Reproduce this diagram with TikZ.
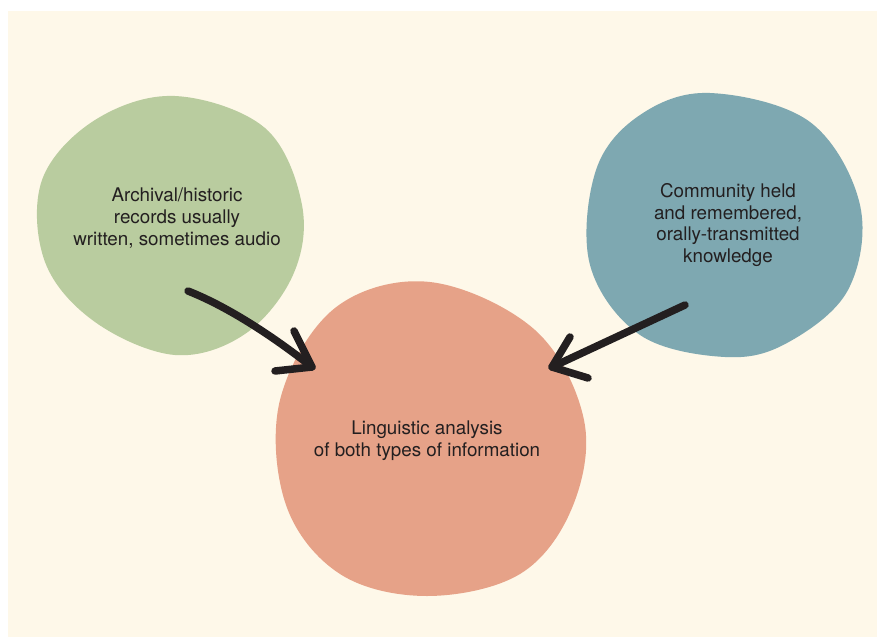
\documentclass[tikz,border=0pt]{standalone}
\usepackage{fontspec}
\setmainfont{TeX Gyre Heros}
\usetikzlibrary{calc}
\definecolor{cream}{HTML}{FEF8E9}
\definecolor{blobgreen}{HTML}{B9CC9F}
\definecolor{blobblue}{HTML}{7EA8B1}
\definecolor{blobsalmon}{HTML}{E6A288}
\definecolor{ink}{HTML}{231F20}
\tikzset{
  blobtext/.style={align=center, inner sep=0pt, text=ink, font=\fontsize{18.8}{21.8}\selectfont},
  arrowline/.style={draw=ink, line width=7.5pt, line cap=round, line join=round},
}
\begin{document}
\begin{tikzpicture}[x=1pt,y=-1pt]
\useasboundingbox (0,0) rectangle (878,637);
\fill[white] (0,0) rectangle (878,637);
\fill[cream] (8,11) rectangle (877,637);
% blobs
\fill[blobgreen] plot[smooth cycle, tension=0.6] coordinates {(175,96) (265,128) (302,205) (293,275) (245,334) (175,355) (95,322) (45,262) (42,180) (95,120)};
\fill[blobblue] plot[smooth cycle, tension=0.6] coordinates {(710,93) (810,122) (860,205) (848,290) (787,343) (725,357) (640,335) (590,265) (596,170) (640,115)};
\fill[blobsalmon] plot[smooth cycle, tension=0.6] coordinates {(430,282) (535,330) (584,420) (572,508) (520,574) (427,596) (340,574) (286,505) (280,400) (335,308)};
% texts
\node[blobtext] (arch) at (177,218) {Archival/historic\\records usually\\written, sometimes audio};
\node[blobtext] (comm) at (728,225) {Community held\\and remembered,\\orally-transmitted\\knowledge};
\node[blobtext] (ling) at (427,441) {Linguistic analysis\\of both types of information};
% arrows
\coordinate (a1s) at (188,291);
\coordinate (a1t) at (312,367);
\coordinate (a2s) at (685,305);
\coordinate (a2t) at (552,367);
\draw[arrowline] (a1s) .. controls (226,306) and (270,334) .. (a1t);
\draw[arrowline] ($(a1t)+(-18,-36)$) -- (a1t) -- ($(a1t)+(-37,4)$);
\draw[arrowline] (a2s) -- (a2t);
\draw[arrowline] ($(a2t)+(18,-30)$) -- (a2t) -- ($(a2t)+(36,11)$);
\end{tikzpicture}
\end{document}
